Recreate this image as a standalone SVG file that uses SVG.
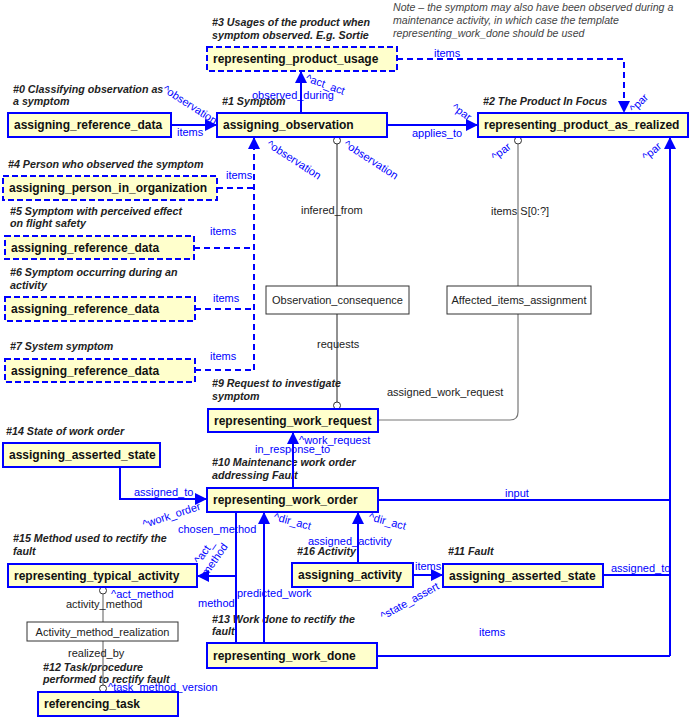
<svg xmlns="http://www.w3.org/2000/svg" width="690" height="717" viewBox="0 0 690 717">
<style>
text{font-family:"Liberation Sans",Arial,sans-serif}
.box{fill:#ffffcc;stroke:#0000ff;stroke-width:2}
.dbox{fill:#ffffcc;stroke:#0000ff;stroke-width:2;stroke-dasharray:6,3}
.wbox{fill:#ffffff;stroke:#333;stroke-width:1}
.nt{font-size:12px;font-weight:bold;fill:#111}
.wt{font-size:11px;fill:#222;text-anchor:middle}
.hd{font-size:10.7px;font-weight:bold;font-style:italic;fill:#222}
.note{font-size:10.6px;font-style:italic;fill:#444}
.bl{font-size:11px;fill:#0000ff}
.kl{font-size:11px;fill:#222}
.c{fill:none;stroke:#0000ff;stroke-width:2}
.cd{fill:none;stroke:#0000ff;stroke-width:2;stroke-dasharray:6,4}
.ck{fill:none;stroke:#222;stroke-width:1}
.cg{fill:none;stroke:#777;stroke-width:1.2}
.circ{fill:#fff;stroke:#333;stroke-width:1}
</style>
<defs>
<marker id="ar" markerUnits="userSpaceOnUse" markerWidth="12" markerHeight="12" viewBox="0 0 10 10" refX="10" refY="5" orient="auto">
<path d="M0,0 L10,5 L0,10 z" fill="#0000ff"/>
</marker>
</defs>
<rect width="690" height="717" fill="#ffffff"/>

<g id="labels">
<text class="note" x="393" y="11">Note – the symptom may also have been observed during a</text>
<text class="note" x="393" y="24">maintenance activity, in which case the template</text>
<text class="note" x="393" y="37">representing_work_done should be used</text>
<text class="hd" x="212" y="26">#3 Usages of the product when</text>
<text class="hd" x="212" y="39">symptom observed. E.g. Sortie</text>
<text class="hd" x="13" y="93">#0 Classifying observation as</text>
<text class="hd" x="13" y="105">a symptom</text>
<text class="hd" x="222" y="105">#1 Symptom</text>
<text class="hd" x="483" y="105">#2 The Product In Focus</text>
<text class="hd" x="8" y="168">#4 Person who observed the symptom</text>
<text class="hd" x="10" y="215">#5 Symptom with perceived effect</text>
<text class="hd" x="10" y="227">on flight safety</text>
<text class="hd" x="10" y="276">#6 Symptom occurring during an</text>
<text class="hd" x="10" y="289">activity</text>
<text class="hd" x="10" y="350">#7 System symptom</text>
<text class="hd" x="212" y="387">#9 Request to investigate</text>
<text class="hd" x="212" y="400">symptom</text>
<text class="hd" x="6" y="435">#14 State of work order</text>
<text class="hd" x="212" y="466">#10 Maintenance work order</text>
<text class="hd" x="212" y="479">addressing Fault</text>
<text class="hd" x="13" y="542">#15 Method used to rectify the</text>
<text class="hd" x="13" y="555">fault</text>
<text class="hd" x="297" y="555">#16 Activity</text>
<text class="hd" x="448" y="555">#11 Fault</text>
<text class="hd" x="212" y="623">#13 Work done to rectify the</text>
<text class="hd" x="212" y="635">fault</text>
<text class="hd" x="43" y="671">#12 Task/procedure</text>
<text class="hd" x="43" y="683">performed to rectify fault</text>
</g>

<g id="connectors">
<path class="c" d="M301,113 V71" marker-end="url(#ar)"/>
<text class="bl" x="252" y="99">observed_during</text>
<text class="bl" transform="translate(305,81) rotate(20)">^act_act</text>
<path class="c" d="M171,125 H217" marker-end="url(#ar)"/>
<text class="bl" x="177" y="136">items</text>
<text class="bl" transform="translate(162,91) rotate(33)">^observation</text>
<path class="c" d="M387,125 H478" marker-end="url(#ar)"/>
<text class="bl" x="412" y="137">applies_to</text>
<text class="bl" transform="translate(451,109) rotate(35)">^par</text>
<path class="cd" d="M397,59 H624 V113" marker-end="url(#ar)"/>
<text class="bl" x="434" y="57">items</text>
<text class="bl" transform="translate(634,113) rotate(-45)">^par</text>
<path class="cd" d="M254,370 V137" marker-end="url(#ar)"/>
<path class="cd" d="M217,188 H254 M194,248 H254 M195,309 H254 M195,370 H254"/>
<text class="bl" x="226" y="179">items</text>
<text class="bl" x="210" y="235">items</text>
<text class="bl" x="213" y="302">items</text>
<text class="bl" x="210" y="360">items</text>
<text class="bl" transform="translate(266,146) rotate(33)">^observation</text>
<circle class="circ" cx="337" cy="140.5" r="3.5"/>
<path class="ck" d="M337,144 V286"/>
<text class="kl" x="301" y="214">infered_from</text>
<text class="bl" transform="translate(343,146) rotate(33)">^observation</text>
<path class="ck" d="M337,314 V402"/>
<circle class="circ" cx="337" cy="405.5" r="3.5"/>
<text class="kl" x="317" y="348">requests</text>
<circle class="circ" cx="518" cy="140.5" r="3.5"/>
<path class="cg" d="M518,144 V286"/>
<text class="kl" x="491" y="215">items S[0:?]</text>
<text class="bl" transform="translate(495,161) rotate(-38)">^par</text>
<path class="cg" d="M518,314 V412 Q518,420 510,420 H378"/>
<text class="kl" x="387" y="396">assigned_work_request</text>
<path class="c" d="M670,656 V137" marker-end="url(#ar)"/>
<path class="c" d="M378,500 H670 M603,575 H670 M377,656 H670"/>
<text class="bl" transform="translate(646,161) rotate(-40)">^par</text>
<text class="bl" x="517" y="497" text-anchor="middle">input</text>
<text class="bl" x="611" y="572">assigned_to</text>
<text class="bl" x="479" y="636">items</text>
<path class="c" d="M293,488 V432" marker-end="url(#ar)"/>
<text class="bl" x="255" y="453">in_response_to</text>
<text class="bl" x="299" y="444">^work_request</text>
<path class="c" d="M120,467 V499 H207" marker-end="url(#ar)"/>
<text class="bl" x="134" y="496">assigned_to</text>
<text class="bl" transform="translate(144,528) rotate(-18)">^work_order</text>
<path class="c" d="M236,512 V643"/>
<path class="c" d="M236,576 H197" marker-end="url(#ar)"/>
<text class="bl" x="178" y="533">chosen_method</text>
<text class="bl" text-anchor="middle" transform="translate(207,554) rotate(-55)"><tspan x="0" y="0">^act_</tspan><tspan x="0" y="13">method</tspan></text>
<text class="bl" x="198" y="607">method</text>
<path class="c" d="M264,643 V512" marker-end="url(#ar)"/>
<text class="bl" x="237" y="597">predicted_work</text>
<text class="bl" transform="translate(273,520) rotate(15)">^dir_act</text>
<path class="c" d="M358,563 V512" marker-end="url(#ar)"/>
<text class="bl" x="308" y="545">assigned_activity</text>
<text class="bl" transform="translate(368,520) rotate(15)">^dir_act</text>
<path class="c" d="M413,575 H443" marker-end="url(#ar)"/>
<text class="bl" x="415" y="570">items</text>
<text class="bl" transform="translate(383,620) rotate(-29)">^state_assert</text>
<circle class="circ" cx="103" cy="590.5" r="3.5"/>
<path class="cg" d="M103,594 V622 M103,641 V685"/>
<circle class="circ" cx="103" cy="688.5" r="3.5"/>
<text class="kl" x="66" y="608">activity_method</text>
<text class="bl" x="111" y="598">^act_method</text>
<text class="kl" x="68" y="657">realized_by</text>
<text class="bl" x="108" y="691">^task_method_version</text>
</g>

<g id="n_usage"><rect class="dbox" x="207" y="47" width="190" height="24"/><text class="nt" x="213" y="63">representing_product_usage</text></g>
<g id="n_ref0"><rect class="box" x="8" y="113" width="163" height="24"/><text class="nt" x="14" y="129">assigning_reference_data</text></g>
<g id="n_obs"><rect class="box" x="217" y="113" width="170" height="24"/><text class="nt" x="223" y="129">assigning_observation</text></g>
<g id="n_prod"><rect class="box" x="478" y="113" width="210" height="24"/><text class="nt" x="484" y="129">representing_product_as_realized</text></g>
<g id="n_person"><rect class="dbox" x="3" y="176" width="214" height="24"/><text class="nt" x="9" y="192">assigning_person_in_organization</text></g>
<g id="n_ref5"><rect class="dbox" x="5" y="236" width="189" height="23"/><text class="nt" x="11" y="252">assigning_reference_data</text></g>
<g id="n_ref6"><rect class="dbox" x="5" y="297" width="190" height="24"/><text class="nt" x="11" y="313">assigning_reference_data</text></g>
<g id="n_ref7"><rect class="dbox" x="5" y="359" width="190" height="23"/><text class="nt" x="11" y="375">assigning_reference_data</text></g>
<g id="n_oc"><rect class="wbox" x="266" y="286" width="143" height="28"/><text class="wt" x="337.5" y="304">Observation_consequence</text></g>
<g id="n_aia"><rect class="wbox" x="447" y="286" width="144" height="28"/><text class="wt" x="519" y="304">Affected_items_assignment</text></g>
<g id="n_req"><rect class="box" x="208" y="409" width="170" height="23"/><text class="nt" x="214" y="425">representing_work_request</text></g>
<g id="n_state14"><rect class="box" x="3" y="443" width="157" height="24"/><text class="nt" x="9" y="459">assigning_asserted_state</text></g>
<g id="n_order"><rect class="box" x="207" y="488" width="171" height="24"/><text class="nt" x="213" y="504">representing_work_order</text></g>
<g id="n_typ"><rect class="box" x="8" y="564" width="189" height="23"/><text class="nt" x="14" y="580">representing_typical_activity</text></g>
<g id="n_act"><rect class="box" x="292" y="563" width="121" height="24"/><text class="nt" x="298" y="579">assigning_activity</text></g>
<g id="n_state11"><rect class="box" x="443" y="564" width="160" height="23"/><text class="nt" x="449" y="580">assigning_asserted_state</text></g>
<g id="n_amr"><rect class="wbox" x="27" y="622" width="151" height="19"/><text class="wt" x="102.5" y="635.5">Activity_method_realization</text></g>
<g id="n_done"><rect class="box" x="207" y="643" width="170" height="25"/><text class="nt" x="213" y="660">representing_work_done</text></g>
<g id="n_task"><rect class="box" x="38" y="692" width="140" height="24"/><text class="nt" x="44" y="708">referencing_task</text></g>
</svg>
